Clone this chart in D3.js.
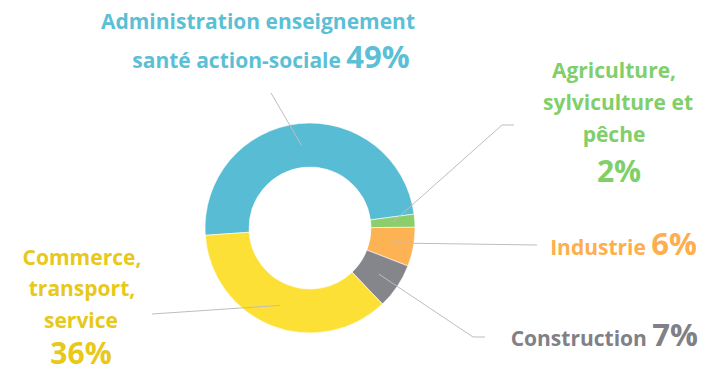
<!DOCTYPE html>
<html>
<head>
<meta charset="utf-8">
<script src="https://cdn.jsdelivr.net/npm/d3@7"></script>
<style>
  body { margin: 0; background: #fff; }
  svg { display: block; }
  text { font-family: "Open Sans", sans-serif; font-weight: 700; }
  .leader { fill: none; stroke: #bdbdbd; stroke-width: 1; }
</style>
</head>
<body>
<svg></svg>
<script>
// data
var categories = ["Administration", "Agriculture", "Industrie", "Construction", "Commerce"];
var values = [49, 2, 6, 7, 36];
var labelLines = [
  ["Administration enseignement", "santé action-sociale"],
  ["Agriculture,", "sylviculture et", "pêche"],
  ["Industrie"],
  ["Construction"],
  ["Commerce,", "transport,", "service"]
];
var percentInline = [true, false, true, true, false];

var sliceColors = ["#58bdd4", "#8bce6c", "#fdb354", "#85858c", "#fde036"];
var textColors = ["#5bbfd6", "#80cf6a", "#fdae4e", "#808087", "#e8c818"];

var width = 707, height = 374,
  cx = 310, cy = 228,
  outerR = 105, innerR = 61;

var svg = d3.select("svg").attr("width", width).attr("height", height);

// where the labels sit and where the leader lines end
var labelLayout = [
  { x: [258, 271], y: [29, 68], anchor: "middle" },
  { x: [614, 618, 614, 619], y: [78, 110, 142, 182], anchor: "middle" },
  { x: [697], y: [255], anchor: "end" },
  { x: [698], y: [346], anchor: "end" },
  { x: [82, 82, 81, 81], y: [265, 296, 328, 364], anchor: "middle" }
];
var leaderEnds = [
  [[271, 93]],
  [[502, 125], [514, 125]],
  [[537, 245]],
  [[473, 337], [485, 337]],
  [[152, 314]]
];

var pie = d3.pie()
  .sort(null)
  .startAngle(-94 * Math.PI / 180)
  .endAngle(266 * Math.PI / 180);

var arc = d3.arc().innerRadius(innerR).outerRadius(outerR);

var arcs = pie(values);

var g = svg.append("g").attr("transform", "translate(" + cx + "," + cy + ")");

g.selectAll("path.slice")
  .data(arcs)
  .enter()
  .append("path")
  .attr("class", "slice")
  .attr("d", arc)
  .attr("fill", function(d, i) { return sliceColors[i]; })
  .attr("stroke", "#fff")
  .attr("stroke-width", 0.6);

// leader lines from the middle of each slice
var line = d3.line();
svg.selectAll("path.leader")
  .data(arcs)
  .enter()
  .append("path")
  .attr("class", "leader")
  .attr("d", function(d, i) {
    var c = arc.centroid(d);
    var pts = [[cx + c[0], cy + c[1]]].concat(leaderEnds[i]);
    return line(pts);
  });

// labels
categories.forEach(function(cat, i) {
  var lay = labelLayout[i];
  var lines = labelLines[i];
  var t = svg.append("text")
    .attr("text-anchor", lay.anchor)
    .attr("fill", textColors[i])
    .style("font-size", "21px");
  lines.forEach(function(s, j) {
    var ts = t.append("tspan")
      .attr("x", lay.x[j])
      .attr("y", lay.y[j])
      .text(s);
    if (percentInline[i] && j == lines.length - 1) {
      ts.text(s + " ");
      t.append("tspan")
        .style("font-size", "31px")
        .text(values[i] + "%");
    }
  });
  if (!percentInline[i]) {
    var k = lines.length;
    t.append("tspan")
      .attr("x", lay.x[k])
      .attr("y", lay.y[k])
      .style("font-size", "30px")
      .text(values[i] + "%");
  }
});
</script>
</body>
</html>
